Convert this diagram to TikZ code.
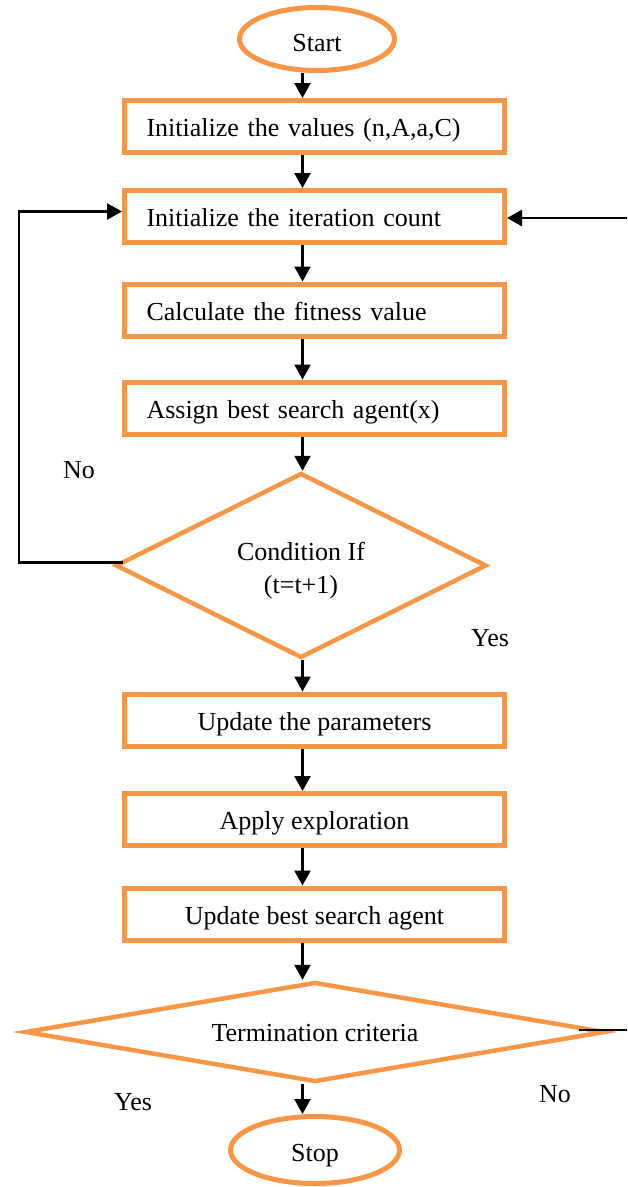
\documentclass[tikz,border=0pt]{standalone}
\usepackage{fontspec}
\setmainfont{Liberation Serif}
\usetikzlibrary{shapes.geometric,arrows.meta,calc}
\definecolor{orng}{HTML}{F79646}
\begin{document}
\begin{tikzpicture}[x=1pt,y=-1pt,
  font=\fontsize{26}{32}\selectfont,
  box/.style={draw=orng, line width=5pt, rectangle, minimum width=380pt, minimum height=52pt, inner sep=0pt, text height=21pt, text depth=1pt},
  lbox/.style={box, text width=336pt, align=left, inner xsep=22pt},
  term/.style={draw=orng, line width=5pt, ellipse, inner sep=0pt},
  dec/.style={draw=orng, line width=4.5pt, diamond, inner sep=0pt},
  arr/.style={draw=black, line width=2.5pt, -{Triangle[length=15pt,width=16pt]}},
  ln/.style={draw=black, line width=2.5pt}]
\useasboundingbox (0,0) rectangle (627,1187);

\node[term, minimum width=155pt, minimum height=63pt, text height=25pt, text depth=0pt] (start) at (317,39) {Start};
\node[lbox] (b1) at (314.5,126.5) {Initialize the values (n,A,a,C)};
\node[lbox] (b2) at (314.5,216.5) {Initialize the iteration count};
\node[lbox] (b3) at (314.5,310) {Calculate the fitness value};
\node[lbox] (b4) at (314.5,408) {Assign best search agent(x)};
\node[dec, aspect=2, minimum width=371pt, minimum height=185pt, align=center] (d1) at (301,565.5) {\rule{0pt}{28pt}Condition If\\[1pt](t=t+1)};
\node[box] (b5) at (314.5,720) {Update the parameters};
\node[box] (b6) at (314.5,819.5) {Apply exploration};
\node[box] (b7) at (314.5,914) {Update best search agent};
\node[dec, aspect=5.8, minimum width=580pt, minimum height=100pt, text height=20pt, text depth=1pt] (d2) at (315,1032) {Termination criteria};
\node[term, minimum width=169pt, minimum height=67pt, text height=23pt, text depth=0pt] (stop) at (315,1150) {Stop};

\node (no1) at (79,470) {No};
\node (yes1) at (490,638) {Yes};
\node (yes2) at (133,1102) {Yes};
\node (no2) at (555,1094) {No};

\coordinate (ax) at (302.5,0);
\coordinate (lx) at (19,0);
\coordinate (re1) at (627,218);
\coordinate (re2) at (627,1030);

\draw[arr] (start.south -| ax) -- (b1.north -| ax);
\draw[arr] (b1.south -| ax) -- (b2.north -| ax);
\draw[arr] (b2.south -| ax) -- (b3.north -| ax);
\draw[arr] (b3.south -| ax) -- (b4.north -| ax);
\draw[arr] (b4.south -| ax) -- (d1.north -| ax);
\draw[arr] (d1.south -| ax) -- (b5.north -| ax);
\draw[arr] (b5.south -| ax) -- (b6.north -| ax);
\draw[arr] (b6.south -| ax) -- (b7.north -| ax);
\draw[arr] (b7.south -| ax) -- (d2.north -| ax);
\draw[arr] (d2.south -| ax) -- (stop.north -| ax);

\draw[arr] ([xshift=10pt,yshift=3pt]d1.west) -- ([yshift=3pt]d1.west -| lx) |- ([yshift=5pt]b2.west);
\draw[arr] (re1) -- (b2.east |- re1);
\draw[ln] ([xshift=-28pt,yshift=2pt]d2.east) -- (re2);
\end{tikzpicture}
\end{document}
